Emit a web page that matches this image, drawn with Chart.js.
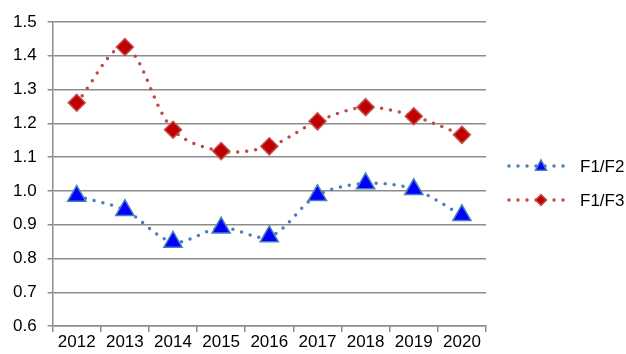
<!DOCTYPE html>
<html>
<head>
<meta charset="utf-8">
<script src="https://cdn.jsdelivr.net/npm/chart.js@4"></script>
<style>
html,body{margin:0;padding:0;background:#fff;}
#wrap{width:626px;height:354px;}
</style>
</head>
<body>
<div id="wrap"><canvas id="c" width="626" height="354"></canvas></div>
<script>
const years = ["2012","2013","2014","2015","2016","2017","2018","2019","2020"];
const f1f2 = [0.985, 0.943, 0.849, 0.891, 0.865, 0.987, 1.022, 1.005, 0.928];
const f1f3 = [1.261, 1.426, 1.181, 1.118, 1.132, 1.206, 1.248, 1.221, 1.166];
const seriesNames = ["F1/F2", "F1/F3"];

const FONT = "'Liberation Sans', Arial, sans-serif";
const gridColor = '#8c8c8c';

const legendPlugin = {
  id: 'customLegend',
  afterDraw(chart) {
    const ctx = chart.ctx;
    const items = chart.data.datasets;
    const x0 = 509, x1 = 570, tx = 580;
    const ys = [166, 200];
    items.forEach((ds, i) => {
      const y = ys[i];
      ctx.save();
      ctx.strokeStyle = ds.borderColor;
      ctx.lineWidth = ds.borderWidth;
      ctx.lineCap = 'round';
      ctx.setLineDash(ds.borderDash);
      ctx.beginPath();
      ctx.moveTo(x0, y);
      ctx.lineTo(x1, y);
      ctx.stroke();
      ctx.setLineDash([]);
      const cx = 541;
      ctx.fillStyle = ds.pointBackgroundColor;
      ctx.strokeStyle = ds.pointBorderColor;
      ctx.lineWidth = ds.pointBorderWidth;
      ctx.beginPath();
      const r = 5.5;
      if (ds.pointStyle === 'triangle') {
        ctx.moveTo(cx, y - r * 1.1);
        ctx.lineTo(cx - r, y + r * 0.75);
        ctx.lineTo(cx + r, y + r * 0.75);
      } else {
        ctx.moveTo(cx, y - r);
        ctx.lineTo(cx + r, y);
        ctx.lineTo(cx, y + r);
        ctx.lineTo(cx - r, y);
      }
      ctx.closePath();
      ctx.fill();
      ctx.stroke();
      ctx.fillStyle = '#000';
      ctx.font = '17px ' + FONT;
      ctx.textBaseline = 'middle';
      ctx.textAlign = 'left';
      ctx.fillText(seriesNames[i], tx, y + 1);
      ctx.restore();
    });
  }
};

new Chart(document.getElementById('c'), {
  type: 'line',
  data: {
    labels: years,
    datasets: [
      {
        label: seriesNames[0],
        data: f1f2,
        borderColor: '#4a7ebb',
        borderWidth: 3.5,
        borderDash: [0, 9],
        borderCapStyle: 'round',
        tension: 0.33,
        pointStyle: 'triangle',
        pointRadius: 10.5,
        pointBackgroundColor: '#0000ff',
        pointBorderColor: '#4a7ebb',
        pointBorderWidth: 1.5,
        fill: false
      },
      {
        label: seriesNames[1],
        data: f1f3,
        borderColor: '#be4b48',
        borderWidth: 3.5,
        borderDash: [0, 9],
        borderCapStyle: 'round',
        tension: 0.33,
        pointStyle: 'rectRot',
        pointRadius: 8.5,
        pointBackgroundColor: '#c00000',
        pointBorderColor: '#c0504d',
        pointBorderWidth: 1.5,
        fill: false
      }
    ]
  },
  options: {
    responsive: false,
    animation: false,
    devicePixelRatio: 1,
    layout: { padding: { left: 2, right: 140, top: 22, bottom: 1.5 } },
    plugins: { legend: { display: false }, tooltip: { enabled: false } },
    scales: {
      x: {
        offset: true,
        grid: { offset: true, drawOnChartArea: false, drawTicks: true, tickLength: 6, color: gridColor, lineWidth: 1.5 },
        border: { color: gridColor, width: 1.5 },
        ticks: { color: '#000', font: { family: FONT, size: 17 }, padding: 0, maxRotation: 0 }
      },
      y: {
        min: 0.6,
        max: 1.5,
        grid: { color: gridColor, lineWidth: 1.5, tickLength: 5 },
        border: { color: gridColor, width: 1.5 },
        ticks: {
          stepSize: 0.1,
          color: '#000',
          font: { family: FONT, size: 17 },
          padding: 11,
          callback: v => Number(v).toFixed(1)
        }
      }
    }
  },
  plugins: [legendPlugin]
});
</script>
</body>
</html>
